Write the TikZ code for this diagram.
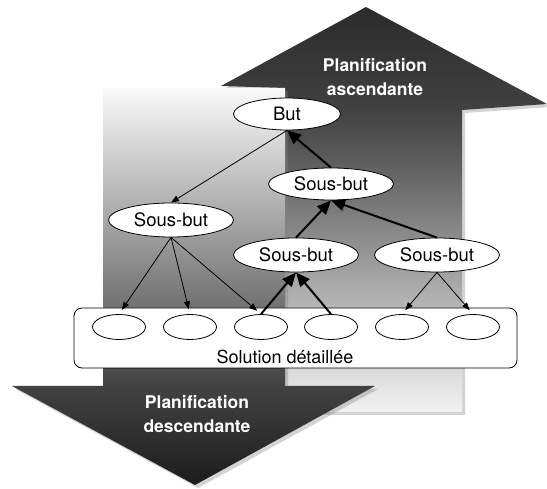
\documentclass[tikz,border=0pt]{standalone}
\usepackage{fontspec}
\setmainfont{TeX Gyre Heros}
\usetikzlibrary{shapes.geometric,shadows,arrows.meta}

\pgfdeclareverticalshading{upshade}{100bp}{color(0bp)=(black!5); color(25bp)=(black!5);
    color(38.8bp)=(black!30); color(57.3bp)=(black!66); color(62.9bp)=(black!75);
    color(75bp)=(black!83); color(100bp)=(black!83)}
\pgfdeclareverticalshading{downshade}{100bp}{color(0bp)=(black!89); color(25bp)=(black!89);
    color(37.5bp)=(black!74); color(48.3bp)=(black!54); color(60.9bp)=(black!30);
    color(75bp)=(black!2); color(100bp)=(black!2)}

\tikzset{
    goal/.style = {
        draw, ellipse,
        fill = white,
        line width = 0.8pt,
        inner sep = 0pt,
        minimum width = 125pt,
        minimum height = 34pt,
        font = \fontsize{18.5}{22}\selectfont,
        },
    leaf/.style = {
        draw, ellipse,
        fill = white,
        line width = 0.8pt,
        minimum width = 53pt,
        minimum height = 25pt,
        inner sep = 0pt,
        },
    solution box/.style = {
        draw,
        fill = white,
        line width = 0.8pt,
        rounded corners = 8pt,
        minimum width = 443pt,
        minimum height = 60pt,
        },
    down edge/.style = {
        -{Triangle[length=8pt,width=6pt]},
        line width = 0.8pt,
        },
    up edge/.style = {
        -{Triangle[length=14pt,width=12pt]},
        line width = 2pt,
        },
    big arrow/.style = {
        drop shadow = {opacity=0.35, shadow xshift=3pt, shadow yshift=-3pt},
        },
    arrow label/.style = {
        text = white,
        align = center,
        font = \bfseries\fontsize{17.5}{23.5}\selectfont,
        },
}

\begin{document}
\begin{tikzpicture}[x=1pt, y=-1pt]
    \useasboundingbox (0,0) rectangle (547,489);

    % ascending and descending planning
    \shade[big arrow, shading=upshade] (366,7) -- (547,104) -- (462,110) -- (462,412)
        -- (285,412) -- (285,88) -- (221,86) -- cycle;
    \shade[big arrow, shading=downshade] (103,88) -- (285,88) -- (285,386) -- (375,386)
        -- (195,485) -- (12,386) -- (103,386) -- cycle;
    \node[arrow label] (up label) at (375,77) {Planification\\ascendante};
    \node[arrow label] (down label) at (197,414) {Planification\\descendante};

    \node[solution box] (solution) at (295.5,338) {};
    \node[font=\fontsize{18}{21}\selectfont] (solution text) at (285,357) {Solution détaillée};
    \foreach \i/\x in {1/119,2/190,3/261,4/331,5/402,6/473}
        \node[leaf] (leaf\i) at (\x,327) {};

    \node[goal, minimum width=107pt, minimum height=32pt] (but) at (287,114) {But};
    \node[goal, minimum height=32pt] (sb top) at (331,184) {Sous-but};
    \node[goal] (sb left) at (171,220) {Sous-but};
    \node[goal] (sb mid) at (296,255) {Sous-but};
    \node[goal] (sb right) at (437,255) {Sous-but};

    \draw[down edge] (but.south) -- (sb left.north);
    \foreach \i in {1,2,3}
        \draw[down edge, shorten >=5pt] (sb left.south) -- (leaf\i.north);
    \foreach \i in {5,6}
        \draw[down edge, shorten >=5pt] (sb right.south) -- (leaf\i.north);

    \draw[up edge] (sb top.north) -- (but.south);
    \draw[up edge] (sb mid.north) -- (sb top.south);
    \draw[up edge] (sb right.north) -- (sb top.south);
    \draw[up edge] (leaf3.north) -- (sb mid.south);
    \draw[up edge] (leaf4.north) -- (sb mid.south);
\end{tikzpicture}
\end{document}
